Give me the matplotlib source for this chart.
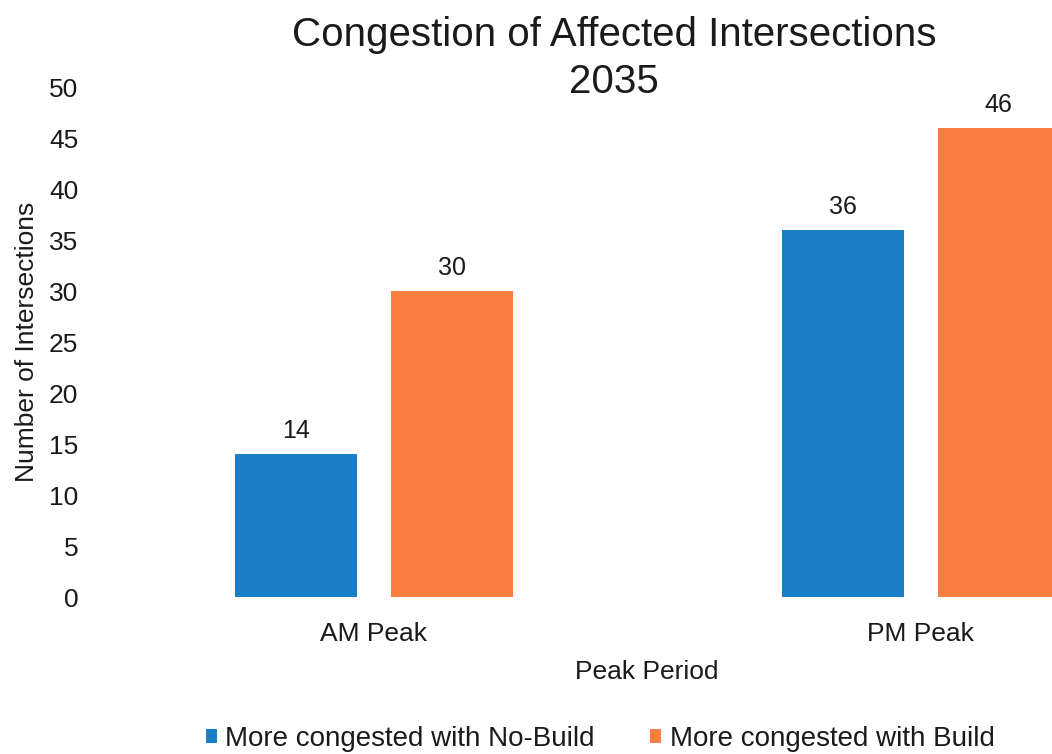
import numpy as np
import matplotlib.pyplot as plt

plt.rcParams['font.family'] = ['Liberation Sans', 'DejaVu Sans']

# 데이터
periods = ['AM Peak', 'PM Peak']
no_build = [14, 36]
build = [30, 46]
series_names = ['More congested with No-Build', 'More congested with Build']
yticks = [0, 5, 10, 15, 20, 25, 30, 35, 40, 45, 50]

blue = '#1b7fc5'
orange = '#fb7e40'

fig = plt.figure(figsize=(10.52, 7.54), dpi=100)
# plot area runs past the right edge of the picture (like the original)
ax = fig.add_axes([0.0955, 0.2082, 1.0395, 0.6764])

x = np.arange(len(periods))
w = 0.223
off = 0.1426
b1 = ax.bar(x - off, no_build, w, color=blue, label=series_names[0])
b2 = ax.bar(x + off, build, w, color=orange, label=series_names[1])

for bars in (b1, b2):
    ax.bar_label(bars, padding=8, fontsize=18, color='#1a1a1a')

ax.set_xlim(-0.5, 1.5)
ax.set_ylim(0, 50)
ax.set_yticks(yticks)
ax.set_xticks(x)
ax.set_xticklabels(periods)
ax.tick_params(axis='both', length=0, labelsize=19, colors='#1a1a1a')
ax.tick_params(axis='y', pad=16)
ax.tick_params(axis='x', pad=18)
for s in ax.spines.values():
    s.set_visible(False)

ax.set_xlabel('Peak Period', fontsize=19, color='#1a1a1a', labelpad=10)
ax.set_ylabel('Number of Intersections', fontsize=19, color='#1a1a1a')
ax.yaxis.set_label_coords(-0.056, 0.5)

fig.text(614 / 1052, 0.979, 'Congestion of Affected Intersections\n2035',
         ha='center', va='top', fontsize=29, color='#1a1a1a', linespacing=1.3)

fig.legend(handles=[b1, b2], loc='center', bbox_to_anchor=(600 / 1052, 0.02),
           ncol=2, frameon=False, fontsize=20, handlelength=0.4, handleheight=0.4,
           handletextpad=0.3, columnspacing=2.0, labelcolor='#1a1a1a')

fig.savefig('out.png', dpi=100)
